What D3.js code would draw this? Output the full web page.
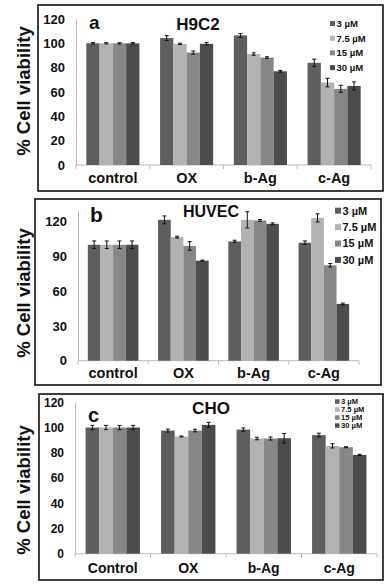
<!DOCTYPE html>
<html><head><meta charset="utf-8">
<script src="https://cdn.jsdelivr.net/npm/d3@7"></script>
<style>
html,body{margin:0;padding:0;background:#fff;}
svg{display:block;font-family:Arial,"Liberation Sans",sans-serif;}
</style></head>
<body><svg id="chart" width="386" height="584"></svg>
<script>
// ---- data ----
const categoriesAB = ["control", "OX", "b-Ag", "c-Ag"];
const categoriesC = ["Control", "OX", "b-Ag", "c-Ag"];
const seriesNames = ["3 µM", "7.5 µM", "15 µM", "30 µM"];
const seriesColors = ["#5e5e5e", "#b2b2b2", "#878787", "#4c4c4c"];

const h9c2Values = [[100,100,100,100],[104.3,99.6,92.4,99.6],[106.5,91.2,88.3,77],[84,67.8,62.6,65]];
const h9c2Errors = [[0.6,0.5,0.5,0.6],[2,0.5,1.3,1],[1.5,1,0.7,0.7],[3,3.5,2.9,3.3]];
const huvecValues = [[100,100,100,100],[121.5,106.6,99,86.3],[102.9,121.5,121,118.1],[101.8,123.2,82.3,49]];
const huvecErrors = [[3.3,3.3,3.3,3.3],[3.4,0.8,3.7,0.5],[1,7,0.8,0.8],[1.5,3.5,1.5,0.7]];
const choValues = [[100,100,100,100],[97.6,92.9,97.6,102.1],[98.4,91.3,91.3,91.5],[94,85.5,84.4,78.3]];
const choErrors = [[1.7,1.7,1.7,1.7],[1.2,0.4,1,2],[1.3,1,1.2,3.8],[1.5,1.7,0.4,0.5]];

const ticksA = [0,20,40,60,80,100,120];
const ticksB = [0,30,60,90,120];
const ticksC = [0,20,40,60,80,100,120];

// ---- layout ----
const panels = [
  {cats: categoriesAB, vals: h9c2Values, errs: h9c2Errors, ticks: ticksA, yMax: 120,
   box: [38,5,383,191], x0: 76, x1: 371, yTop: 19, yBot: 165, tickFont: 13,
   letter: "a", letterX: 89, letterY: 29, letterSize: 19,
   title: "H9C2", titleX: 198, titleY: 30, titleSize: 17,
   ylabelY: 91, catY: 183, catFont: 14.5,
   legX: 330, legY: 23.5, legStep: 14.7, legFont: 9.5, legSq: 5},
  {cats: categoriesAB, vals: huvecValues, errs: huvecErrors, ticks: ticksB, yMax: 130,
   box: [35,199,381,385], x0: 78, x1: 359, yTop: 210, yBot: 360.7, tickFont: 13,
   letter: "b", letterX: 90, letterY: 221.5, letterSize: 21,
   title: "HUVEC", titleX: 211, titleY: 216.5, titleSize: 16,
   ylabelY: 293, catY: 378, catFont: 14.5,
   legX: 335, legY: 210.7, legStep: 16.4, legFont: 11, legSq: 6},
  {cats: categoriesC, vals: choValues, errs: choErrors, ticks: ticksC, yMax: 120,
   box: [39,394,383,580], x0: 75, x1: 377, yTop: 402.3, yBot: 553.7, tickFont: 12,
   letter: "c", letterX: 88, letterY: 421.5, letterSize: 20,
   title: "CHO", titleX: 211, titleY: 414, titleSize: 17,
   ylabelY: 490, catY: 573, catFont: 14,
   legX: 335, legY: 401.5, legStep: 8, legFont: 7.6, legSq: 4.5}
];

const svg = d3.select("#chart");

panels.forEach(p => {
  const g = svg.append("g");
  // frame
  g.append("rect").attr("x", p.box[0]).attr("y", p.box[1])
    .attr("width", p.box[2]-p.box[0]).attr("height", p.box[3]-p.box[1])
    .attr("fill", "none").attr("stroke", "#111").attr("stroke-width", 1.6);

  const x = d3.scaleBand().domain(p.cats).range([p.x0, p.x1]).paddingInner(0.28).paddingOuter(0.14);
  const xs = d3.scaleBand().domain(d3.range(seriesNames.length)).range([0, x.bandwidth()]);
  const y = d3.scaleLinear().domain([0, p.yMax]).range([p.yBot, p.yTop]);

  // y axis
  const yAxis = d3.axisLeft(y).tickValues(p.ticks).tickSize(0).tickPadding(11);
  const ya = g.append("g").attr("transform", `translate(${p.x0},0)`).call(yAxis);
  ya.select(".domain").attr("stroke", "#bbb");
  ya.selectAll("text").attr("font-size", p.tickFont).attr("font-weight", "bold")
    .attr("fill", "#111").attr("font-family", "Arial, 'Liberation Sans', sans-serif");

  // x axis
  const xStep = (p.x1 - p.x0) / p.cats.length;
  const xa = g.append("g").attr("transform", `translate(0,${p.yBot})`);
  xa.append("line").attr("x1", p.x0).attr("x2", p.x1).attr("y1", 0).attr("y2", 0)
    .attr("stroke", "#bbb");
  d3.range(p.cats.length + 1).forEach(i => {
    xa.append("line").attr("x1", p.x0 + i*xStep).attr("x2", p.x0 + i*xStep)
      .attr("y1", 0).attr("y2", 4).attr("stroke", "#bbb");
  });
  p.cats.forEach(c => {
    g.append("text").attr("x", x(c) + x.bandwidth()/2).attr("y", p.catY)
      .attr("text-anchor", "middle").attr("font-size", p.catFont).attr("font-weight", "bold")
      .attr("fill", "#111").text(c);
  });

  // bars
  p.cats.forEach((c, ci) => {
    p.vals[ci].forEach((v, si) => {
      const bx = x(c) + xs(si);
      g.append("rect").attr("x", bx).attr("y", y(v))
        .attr("width", xs.bandwidth()).attr("height", y(0) - y(v))
        .attr("fill", seriesColors[si]);
      const e = p.errs[ci][si];
      const cx = bx + xs.bandwidth()/2;
      const eg = g.append("g").attr("stroke", "#111").attr("stroke-width", 1);
      eg.append("line").attr("x1", cx).attr("x2", cx).attr("y1", y(v+e)).attr("y2", y(v-e));
      eg.append("line").attr("x1", cx-2).attr("x2", cx+2).attr("y1", y(v+e)).attr("y2", y(v+e));
      eg.append("line").attr("x1", cx-2).attr("x2", cx+2).attr("y1", y(v-e)).attr("y2", y(v-e));
    });
  });

  // labels
  g.append("text").attr("x", p.letterX).attr("y", p.letterY)
    .attr("font-size", p.letterSize).attr("font-weight", "bold").attr("fill", "#111").text(p.letter);
  g.append("text").attr("x", p.titleX).attr("y", p.titleY).attr("text-anchor", "middle")
    .attr("font-size", p.titleSize).attr("font-weight", "bold").attr("fill", "#111").text(p.title);
  g.append("text").attr("transform", `translate(30,${p.ylabelY}) rotate(-90)`)
    .attr("text-anchor", "middle").attr("font-size", 18.5).attr("font-weight", "bold")
    .attr("fill", "#111").text("% Cell viability");

  // legend
  seriesNames.forEach((s, si) => {
    const ly = p.legY + si*p.legStep;
    g.append("rect").attr("x", p.legX).attr("y", ly - p.legSq/2)
      .attr("width", p.legSq).attr("height", p.legSq).attr("fill", seriesColors[si]);
    g.append("text").attr("x", p.legX + p.legSq + 1.5).attr("y", ly)
      .attr("dy", "0.35em").attr("font-size", p.legFont).attr("font-weight", "bold")
      .attr("fill", "#111").text(s);
  });
});
</script></body></html>
